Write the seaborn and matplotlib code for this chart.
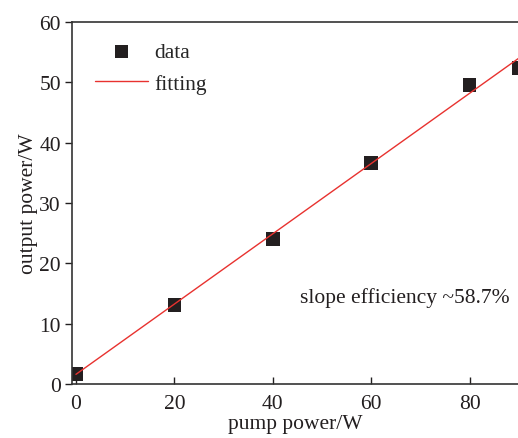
import matplotlib
matplotlib.use("Agg")
import matplotlib.pyplot as plt
import seaborn as sns
import pandas as pd

pump_power = [0, 20, 40, 60, 80, 90]
output_power = [1.65, 13.1, 24.0, 36.65, 49.6, 52.4]
fit_x = [0, 90]
fit_y = [1.6, 54.0]

sns.set_style("ticks")
plt.rcParams['font.family'] = ['Liberation Serif', 'DejaVu Serif']
FS = 15.5
plt.rcParams['font.size'] = FS

W, H = 518, 439
fig = plt.figure(figsize=(W / 100, H / 100), dpi=100)
ax = fig.add_axes([72 / W, 1 - 385 / H, 1 - 72 / W, (385 - 23) / H])

df = pd.DataFrame({"x": pump_power, "y": output_power})
fdf = pd.DataFrame({"x": fit_x, "y": fit_y})

sns.lineplot(data=fdf, x="x", y="y", ax=ax, color="#e8322f", linewidth=1.0,
             label="fitting", zorder=3)
sns.scatterplot(data=df, x="x", y="y", ax=ax, marker="s", s=95, color="#231f20",
                edgecolor="none", label="data", zorder=2)

ax.set_xlim(-0.8, 89.85)
ax.set_ylim(0, 60)
ax.set_xticks([0, 20, 40, 60, 80])
ax.set_yticks([0, 10, 20, 30, 40, 50, 60])
ax.tick_params(axis="x", direction="in", length=5, width=1, colors="#231f20",
               labelsize=FS, pad=7)
ax.tick_params(axis="y", direction="out", length=5, width=1, colors="#231f20",
               labelsize=FS, pad=3)
for s in ["left", "bottom", "top"]:
    ax.spines[s].set_color("#333333")
    ax.spines[s].set_linewidth(1.2)
ax.spines["right"].set_visible(False)

ax.set_xlabel("pump power/W", fontsize=FS, color="#231f20", labelpad=1)
ax.set_ylabel("output power/W", fontsize=FS, color="#231f20", labelpad=1)

handles, labels = ax.get_legend_handles_labels()
order = [labels.index("data"), labels.index("fitting")]
ax.legend([handles[i] for i in order], [labels[i] for i in order],
          loc="upper left", bbox_to_anchor=(95 / W, 1 - 43 / H),
          bbox_transform=fig.transFigure, frameon=False, borderpad=0,
          borderaxespad=0, fontsize=FS, handlelength=2.45, handletextpad=0.3,
          labelspacing=0.55, markerscale=1.0)

ax.text(45.5, 14.4, "slope efficiency ~58.7%", fontsize=FS, color="#231f20",
        va="center", ha="left")

fig.savefig("out.png", dpi=100)
